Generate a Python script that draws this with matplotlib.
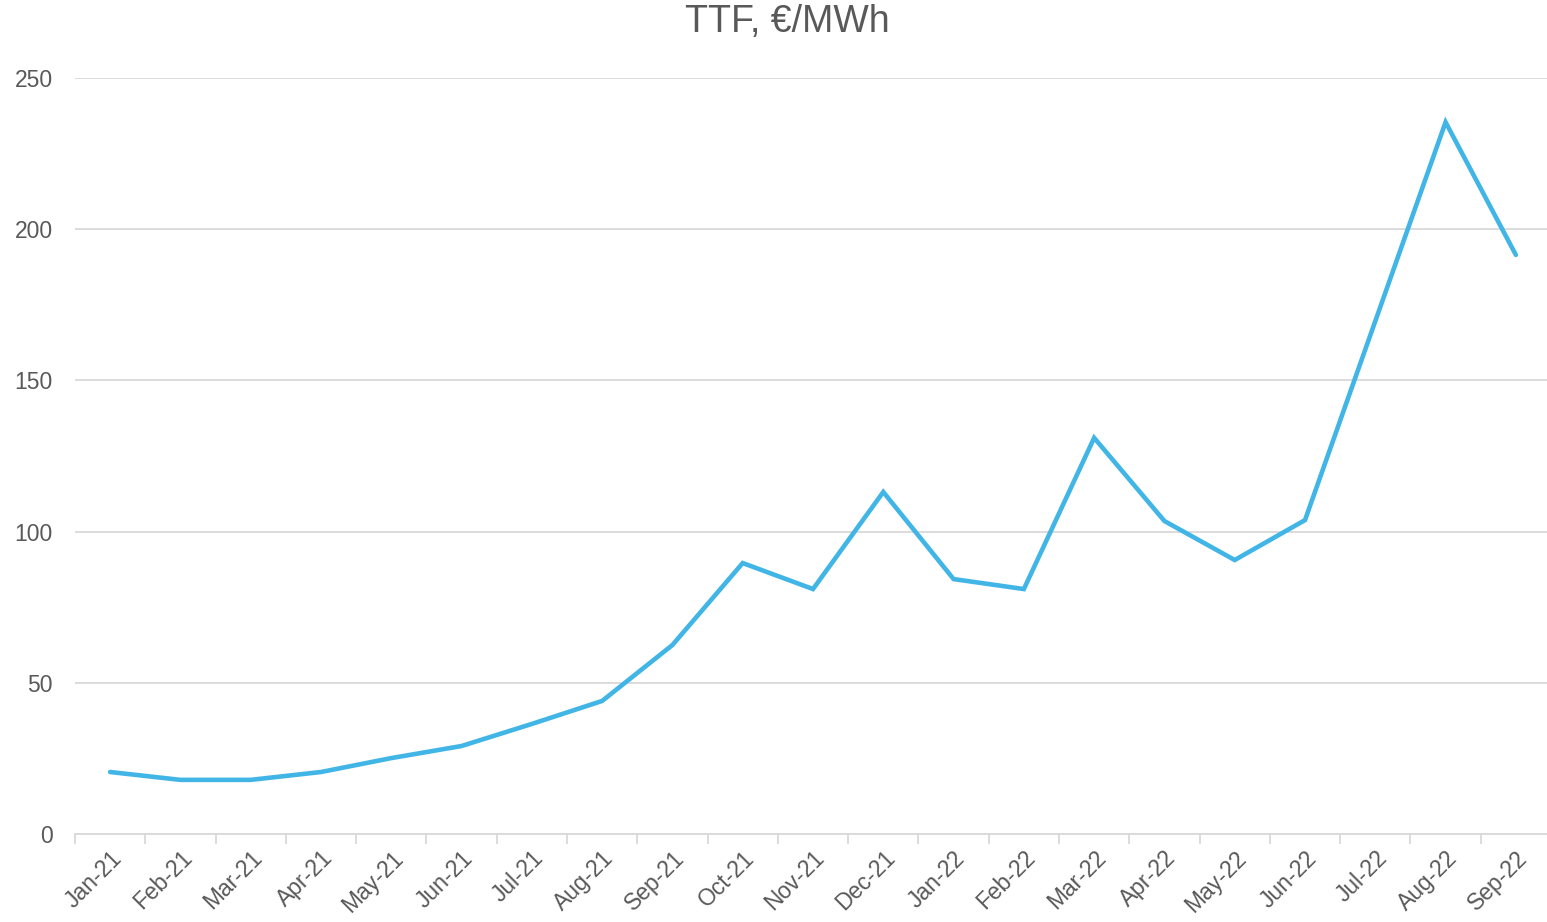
import matplotlib
matplotlib.use("Agg")
import matplotlib.pyplot as plt
import numpy as np

months = ["Jan-21", "Feb-21", "Mar-21", "Apr-21", "May-21", "Jun-21", "Jul-21",
          "Aug-21", "Sep-21", "Oct-21", "Nov-21", "Dec-21", "Jan-22", "Feb-22",
          "Mar-22", "Apr-22", "May-22", "Jun-22", "Jul-22", "Aug-22", "Sep-22"]
ttf = [20.5, 17.9, 17.9, 20.5, 25.1, 29.1, 36.4, 44.0, 62.5, 89.6, 81.0, 113.1,
       84.3, 81.0, 131.0, 103.5, 90.6, 103.8, 169.6, 235.4, 191.5]
yticks = [0, 50, 100, 150, 200, 250]

plt.rcParams['font.family'] = ['Liberation Sans', 'DejaVu Sans']
fig = plt.figure(figsize=(15.47, 9.22), dpi=100)
ax = fig.add_axes([75/1547, 88/922, 1476/1547, 756/922])

x = np.arange(len(months))
ax.plot(x, ttf, color="#41B6E6", lw=3.3, solid_capstyle="round", solid_joinstyle="miter", zorder=3)

ax.set_xlim(-0.5, len(months) - 0.5)
ax.set_ylim(0, 250)
ax.set_yticks(yticks)
ax.set_yticklabels([str(v) for v in yticks])
ax.grid(axis="y", color="#d9d9d9", lw=1.3)
ax.set_axisbelow(True)
for s in ["top", "right", "left"]:
    ax.spines[s].set_visible(False)
ax.spines["bottom"].set_color("#d9d9d9")
ax.spines["bottom"].set_linewidth(1.3)
ax.tick_params(axis="y", length=0, labelsize=16.5, labelcolor="#595959", pad=16)

ax.set_xticks(x)
ax.set_xticklabels(months, rotation=45, ha="right", rotation_mode="anchor")
ax.set_xticks(np.arange(-0.5, len(months), 1), minor=True)
ax.tick_params(axis="x", which="major", length=0, labelsize=16.5, labelcolor="#595959", pad=9)
ax.tick_params(axis="x", which="minor", length=7, color="#d9d9d9", width=1.3)

fig.text(787/1547, 1 - 22/922, "TTF, €/MWh", ha="center", va="center", fontsize=27, color="#595959")

fig.savefig("out.png", dpi=100)
